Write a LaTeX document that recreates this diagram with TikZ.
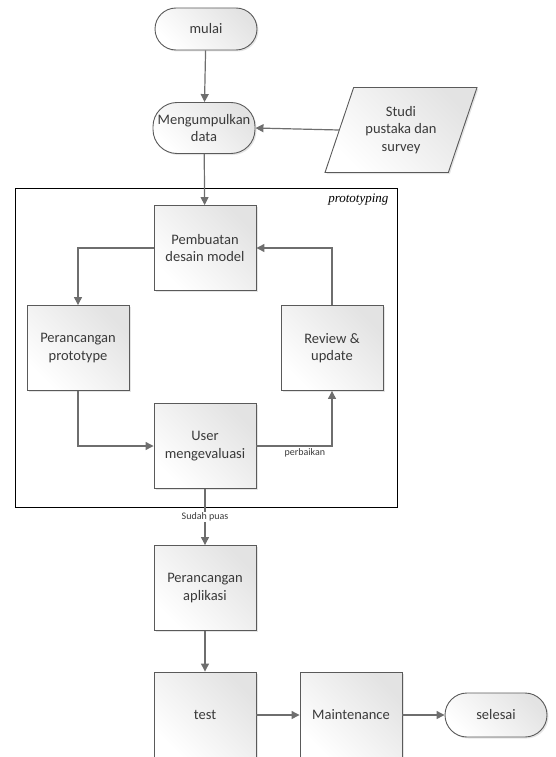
\documentclass[tikz,border=0pt]{standalone}
\usepackage{fontspec}
\setmainfont{Carlito}
\newfontfamily\protofont{Liberation Serif}
\usetikzlibrary{shapes.geometric,arrows.meta,shadows}
\definecolor{linegray}{HTML}{6E6E6E}
\definecolor{boxline}{HTML}{5A5A5A}
\definecolor{textgray}{HTML}{3A3A3A}
\tikzset{
  boxfill/.style={left color=white, right color=gray!22, shading angle=135},
  procbox/.style={draw=boxline, line width=0.9pt, boxfill, minimum width=102pt, minimum height=85pt,
     align=center, text=textgray, font=\fontsize{14.5}{17.5}\selectfont,
     drop shadow={shadow xshift=1.5pt, shadow yshift=-1.5pt, fill=gray!40}},
  termbox/.style={draw=boxline, line width=0.9pt, boxfill, rounded corners=21pt, minimum width=102pt, minimum height=42pt,
     align=center, text=textgray, font=\fontsize{14.5}{17.5}\selectfont, inner sep=1pt,
     drop shadow={shadow xshift=1.5pt, shadow yshift=-1.5pt, fill=gray!40}},
  databox/.style={draw=boxline, line width=0.9pt, boxfill, trapezium, trapezium left angle=66.5, trapezium right angle=113.5,
     trapezium stretches=true, minimum width=152pt, minimum height=85pt, align=center, text=textgray,
     font=\fontsize{14.5}{17.5}\selectfont,
     drop shadow={shadow xshift=1.5pt, shadow yshift=-1.5pt, fill=gray!40}},
  conn/.style={draw=linegray, line width=1.2pt, -{Triangle[width=8pt,length=8pt]}, color=linegray},
  lbl/.style={font=\fontsize{10}{12}\selectfont, text=textgray, fill=white, inner sep=1pt},
}
\begin{document}
\begin{tikzpicture}[x=1pt,y=-1pt]
\useasboundingbox (0,0) rectangle (555,757);
% frame
\node[draw=black, line width=0.9pt, minimum width=382pt, minimum height=319pt, inner sep=0pt] (frame) at (206,347.5) {};
\node[font=\protofont\itshape\fontsize{13}{15}\selectfont, anchor=east] (proto) at (392,200) {prototyping};
% nodes
\node[termbox] (mulai) at (206,29) {mulai};
\node[termbox, minimum width=102pt, minimum height=51pt, rounded corners=24pt] (kumpul) at (204,128) {Mengumpulkan\\data};
\node[databox] (studi) at (401,130) {Studi\\pustaka dan\\survey};
\node[procbox] (desain) at (205,248) {Pembuatan\\desain model};
\node[procbox] (proto1) at (78,348) {Perancangan\\prototype};
\node[procbox] (review) at (332,348) {Review \&\\update};
\node[procbox] (user) at (205,446) {User\\mengevaluasi};
\node[procbox] (aplikasi) at (205,588) {Perancangan\\aplikasi};
\node[procbox, minimum height=86pt] (test) at (205,715) {test};
\node[procbox, minimum height=86pt] (maint) at (351,715) {Maintenance};
\node[termbox, minimum height=44pt, rounded corners=22pt] (selesai) at (496,715) {selesai};
% connectors
\draw[conn] (mulai) -- (kumpul);
\draw[conn] (studi.west) -- (kumpul.east);
\draw[conn] (kumpul) -- (desain);
\draw[conn] (desain.west) -| (proto1.north);
\draw[conn] (proto1.south) |- (user.west);
\draw[conn] (user.east) -| node[lbl, pos=0.32, below=1pt] (perb) {perbaikan} (review.south);
\draw[conn] (review.north) |- (desain.east);
\draw[conn] (user) -- node[lbl, pos=0.5] (puas) {Sudah puas} (aplikasi);
\draw[conn] (aplikasi) -- (test);
\draw[conn] (test) -- (maint);
\draw[conn] (maint) -- (selesai);
\end{tikzpicture}
\end{document}
